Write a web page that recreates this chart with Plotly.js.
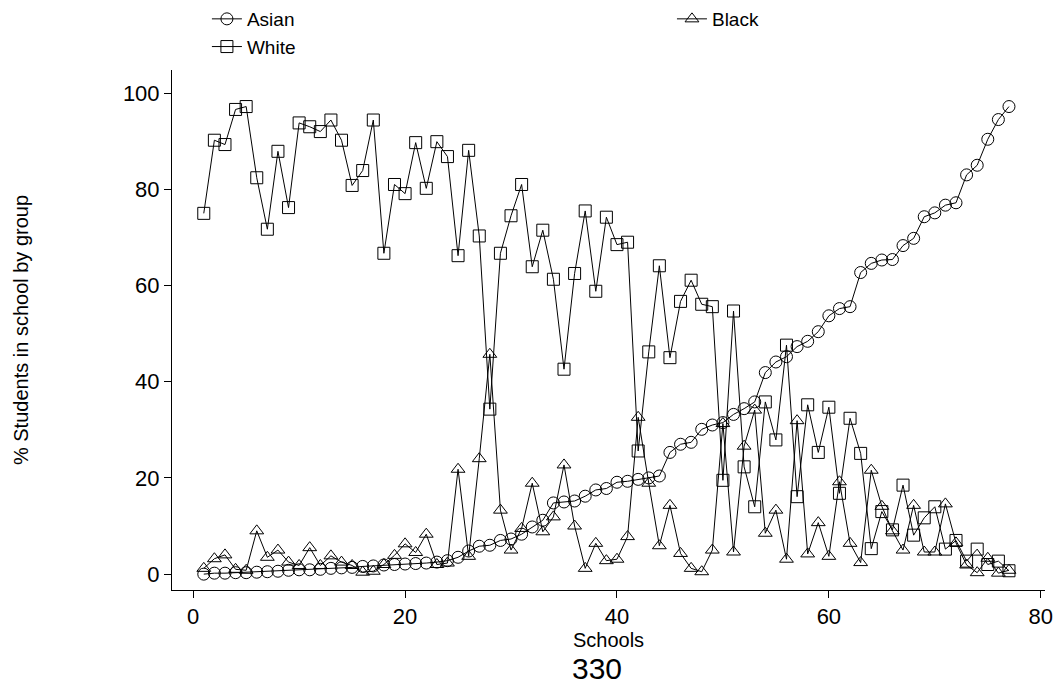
<!DOCTYPE html>
<html>
<head>
<meta charset="utf-8">
<script src="https://cdn.plot.ly/plotly-3.0.1.min.js"></script>
<style>html,body{margin:0;padding:0;background:#fff;}#chart{width:1059px;height:688px;}</style>
</head>
<body>
<div id="chart"></div>
<script>
var schools = [1,2,3,4,5,6,7,8,9,10,11,12,13,14,15,16,17,18,19,20,21,22,23,24,25,26,27,28,29,30,31,32,33,34,35,36,37,38,39,40,41,42,43,44,45,46,47,48,49,50,51,52,53,54,55,56,57,58,59,60,61,62,63,64,65,66,67,68,69,70,71,72,73,74,75,76,77];

var asian = [0.0,0.2,0.2,0.3,0.3,0.4,0.5,0.6,0.8,0.9,
             0.9,1.0,1.2,1.3,1.4,1.6,1.7,1.9,2.0,2.1,
             2.2,2.3,2.5,2.8,3.5,4.8,5.8,6.0,7.0,7.3,
             8.3,9.8,11.2,14.8,15.0,15.2,16.2,17.5,17.8,19.1,
             19.3,19.7,20.0,20.4,25.3,27.0,27.4,30.1,31.0,31.5,
             33.2,34.4,35.8,41.9,44.1,45.2,47.3,48.4,50.4,53.7,
             55.2,55.6,62.7,64.6,65.3,65.4,68.3,69.8,74.3,75.1,
             76.7,77.2,83.0,85.0,90.4,94.5,97.2];

var black = [1.2,3.2,4.0,1.0,0.8,9.0,3.5,5.0,2.5,1.8,
             5.5,1.8,3.8,2.5,1.8,0.4,0.6,2.0,3.9,6.3,
             4.5,8.3,2.0,2.3,21.8,3.7,24.0,45.7,13.3,5.0,
             9.5,18.9,8.8,11.9,22.7,10.0,1.2,6.4,2.8,3.1,
             7.8,32.6,18.9,5.9,14.3,4.3,1.2,0.5,5.0,31.3,
             4.6,26.6,34.1,8.5,13.3,3.1,31.9,4.2,10.7,3.7,
             19.2,6.4,2.4,21.6,14.1,9.0,5.0,14.3,4.6,4.6,
             14.6,6.5,1.9,0.3,3.3,0.2,0.8];

var white = [75.0,90.2,89.3,96.6,97.2,82.4,71.7,87.9,76.2,93.8,
             93.0,92.0,94.4,90.2,80.8,83.9,94.4,66.7,81.0,79.1,
             89.7,80.2,89.9,86.8,66.2,88.1,70.3,34.3,66.7,74.5,
             81.0,63.9,71.5,61.3,42.6,62.5,75.5,58.8,74.2,68.5,
             69.0,25.6,46.2,64.1,45.0,56.7,61.1,56.1,55.6,19.5,
             54.7,22.3,14.0,35.8,27.9,47.6,16.1,35.2,25.3,34.7,
             16.8,32.4,25.1,5.3,13.0,9.2,18.5,8.1,11.7,14.0,
             5.2,7.0,2.7,5.2,2.0,2.7,0.7];

var xTicks = [0,20,40,60,80];
var yTicks = [0,20,40,60,80,100];
var seriesNames = ['Asian','Black','White'];
var xTitle = 'Schools';
var yTitle = '% Students in school by group';
var footer = '330';

var FONT = 'Liberation Sans, Arial, Helvetica, sans-serif';

function mk(name, y, symbol, legendId) {
  return {
    x: schools, y: y, name: name, type: 'scatter', mode: 'lines+markers',
    legend: legendId,
    line: {color: '#000', width: 1},
    marker: {symbol: symbol, size: 12, color: '#000', line: {color: '#000', width: 1}}
  };
}

var data = [
  mk(seriesNames[0], asian, 'circle-open', 'legend'),
  mk(seriesNames[1], black, 'triangle-up-open', 'legend2'),
  mk(seriesNames[2], white, 'square-open', 'legend')
];

var legendFont = {family: FONT, size: 19, color: '#000'};

var layout = {
  width: 1059, height: 688,
  margin: {l: 172, r: 14, t: 70, b: 98},
  paper_bgcolor: '#fff', plot_bgcolor: '#fff',
  font: {family: FONT, color: '#000', size: 20},
  showlegend: true,
  legend: {
    orientation: 'v', xref: 'paper', x: 0.04, xanchor: 'left',
    yref: 'container', y: 1, yanchor: 'top',
    font: legendFont, bgcolor: 'rgba(0,0,0,0)', tracegroupgap: 0
  },
  legend2: {
    orientation: 'v', xref: 'paper', x: 0.5727, xanchor: 'left',
    yref: 'container', y: 1, yanchor: 'top',
    font: legendFont, bgcolor: 'rgba(0,0,0,0)', tracegroupgap: 0
  },
  xaxis: {
    range: [-2, 80.4], tickvals: xTicks, ticktext: xTicks.map(String),
    ticks: 'outside', ticklen: 7, tickcolor: '#000', tickwidth: 1,
    showline: true, linecolor: '#000', linewidth: 1,
    showgrid: false, zeroline: false,
    tickfont: {family: FONT, size: 22, color: '#000'},
    title: {text: xTitle, font: {family: FONT, size: 20, color: '#000'}, standoff: 0}
  },
  yaxis: {
    range: [-3.3, 104.8], tickvals: yTicks, ticktext: yTicks.map(String),
    ticks: 'outside', ticklen: 7, tickcolor: '#000', tickwidth: 1,
    showline: true, linecolor: '#000', linewidth: 1,
    showgrid: false, zeroline: false,
    tickfont: {family: FONT, size: 22, color: '#000'},
    title: {text: yTitle, font: {family: FONT, size: 20, color: '#000'}, standoff: 88}
  },
  annotations: [{
    text: footer, xref: 'paper', yref: 'paper', x: 0.487, y: -0.15,
    xanchor: 'center', yanchor: 'middle', showarrow: false,
    font: {family: FONT, size: 30, color: '#000'}
  }]
};

Plotly.newPlot('chart', data, layout, {displayModeBar: false, staticPlot: true});
</script>
</body>
</html>
